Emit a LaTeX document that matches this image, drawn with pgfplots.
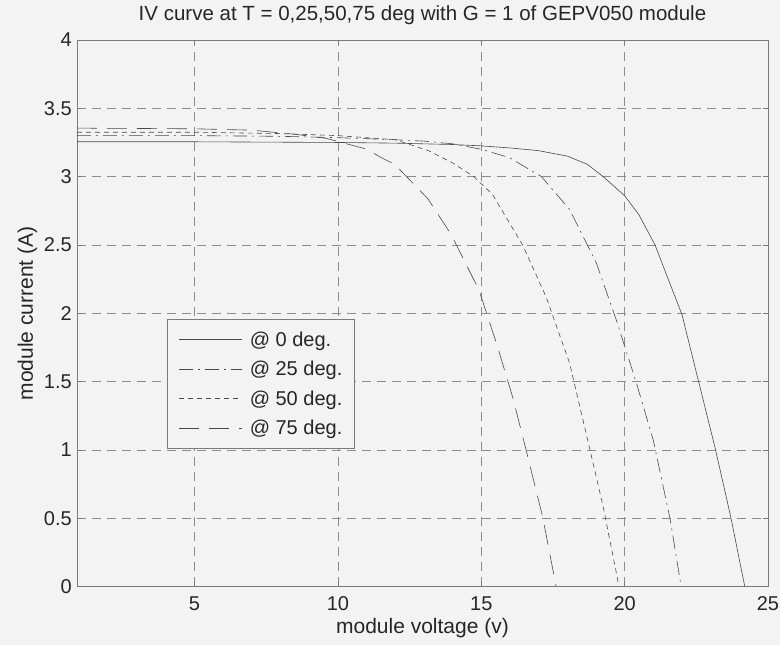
\documentclass[border=0pt]{standalone}
\usepackage{fontspec}
\setmainfont{Liberation Sans}
\usepackage{pgfplots}
\pgfplotsset{compat=1.18}
\definecolor{bg}{HTML}{F3F3F3}
\definecolor{crv}{HTML}{4A4A4A}
\definecolor{grd}{HTML}{8C8C8C}
\definecolor{axc}{HTML}{7A7A7A}
\begin{document}
\begin{tikzpicture}
\fill[bg] (-77pt,-58.5pt) rectangle (703pt,586.5pt);
\begin{axis}[
  scale only axis, width=691pt, height=546.5pt,
  at={(0pt,0pt)}, anchor=south west,
  xmin=0.9, xmax=25, ymin=0, ymax=4,
  xtick={5,10,15,20,25},
  ytick={0,0.5,1,1.5,2,2.5,3,3.5,4},
  yticklabels={0,0.5,1,1.5,2,2.5,3,3.5,4},
  /pgf/number format/assume math mode=true,
  tick label style={font=\fontsize{20}{20}\selectfont, text=black!85},
  xticklabel style={anchor=base, yshift=-24pt},
  yticklabel style={anchor=east, inner sep=0pt, xshift=-5pt},
  grid=major,
  major grid style={grd, dash pattern=on 9pt off 6pt, line width=0.5pt},
  axis line style={axc, line width=0.6pt},
  tick style={axc, line width=0.5pt},
  tick align=inside, major tick length=5pt,
  xlabel={module voltage (v)}, ylabel={module current (A)},
  label style={font=\fontsize{21}{21}\selectfont, text=black!85},
  xlabel style={at={(axis description cs:0.5,0)}, anchor=base, yshift=-47pt},
  ylabel style={at={(axis description cs:0,0.5)}, anchor=base, rotate=0, yshift=44pt},
  title={IV curve at T = 0,25,50,75 deg with G = 1 of GEPV050 module},
  title style={font=\fontsize{20.5}{21}\selectfont, text=black!85, at={(axis description cs:0.5,1)}, anchor=base, yshift=13pt},
  legend image code/.code={\draw[#1] (0pt,0pt) -- (63pt,0pt);},
  legend cell align=left,
  legend style={at={(axis description cs:0.1302,0.4895)}, anchor=north west,
    draw=axc, fill=bg, font=\fontsize{20}{20}\selectfont, text=black!85,
    inner xsep=12pt, inner ysep=11pt, row sep=10.5pt, column sep=7pt,
    nodes={inner sep=0pt, text height=16pt, text depth=3pt}},
  every axis plot/.append style={crv, line width=0.6pt, mark=none},
]
\addplot[solid] coordinates {
(0.9,3.255) (5,3.255) (8,3.252) (10,3.25) (12,3.245) (14,3.235) (15,3.225) (16,3.21) (17,3.19) (18,3.15) (18.7,3.09) (19.25,3.0) (20,2.86) (20.5,2.72) (21.06,2.50) (21.5,2.26) (22.0,1.99) (22.58,1.50) (23.16,1.01) (23.7,0.51) (24.19,0)
};
\addlegendentry{@ 0 deg.}
\addplot[dash pattern=on 14pt off 5pt on 2pt off 5pt] coordinates {
(0.9,3.30) (5,3.30) (8,3.295) (10,3.285) (12,3.27) (13,3.26) (14,3.24) (15,3.20) (15.97,3.14) (17.1,3.0) (18.08,2.76) (19.01,2.37) (19.71,1.95) (20.41,1.49) (21.0,1.07) (21.59,0.49) (21.97,0)
};
\addlegendentry{@ 25 deg.}
\addplot[dash pattern=on 5pt off 4pt] coordinates {
(0.9,3.325) (5,3.325) (8,3.315) (10,3.30) (12,3.27) (13.16,3.19) (14.0,3.10) (14.74,3.0) (15.39,2.87) (16.44,2.50) (17.26,2.12) (18.08,1.635) (18.78,1.01) (19.25,0.585) (19.71,0.1) (19.8,0)
};
\addlegendentry{@ 50 deg.}
\addplot[dash pattern=on 20pt off 10pt] coordinates {
(0.9,3.355) (5,3.35) (7,3.34) (8.5,3.31) (9.6,3.28) (11.02,3.20) (11.5,3.14) (11.98,3.09) (12.67,2.94) (13.13,2.84) (13.94,2.58) (14.92,2.17) (15.56,1.76) (16.09,1.39) (16.55,1.01) (17.14,0.51) (17.61,0)
};
\addlegendentry{@ 75 deg.}
\end{axis}
\pgfresetboundingbox
\useasboundingbox (-77pt,-58.5pt) rectangle (703pt,586.5pt);
\end{tikzpicture}
\end{document}
